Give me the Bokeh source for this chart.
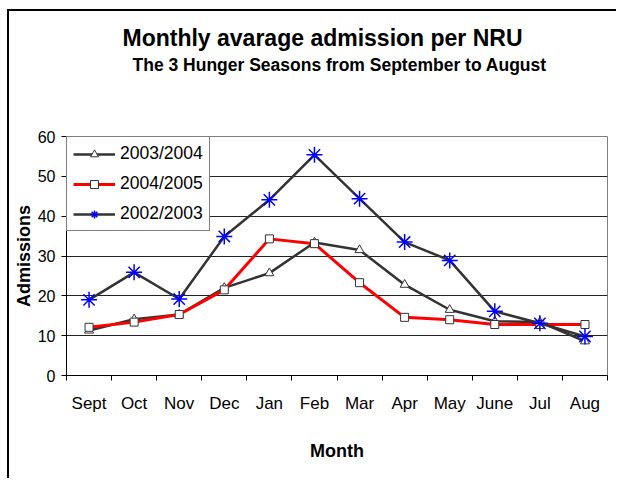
from bokeh.plotting import figure
from bokeh.models import Range1d, FixedTicker, Title, Legend, LegendItem
from bokeh.embed import file_html
from bokeh.resources import INLINE

months = ["Sept", "Oct", "Nov", "Dec", "Jan", "Feb", "Mar", "Apr", "May", "June", "Jul", "Aug"]
s_2003_2004 = [11.3, 14.1, 15.3, 22.0, 25.7, 33.4, 31.5, 22.8, 16.5, 13.6, 13.4, 8.6]
s_2004_2005 = [12.1, 13.4, 15.3, 21.5, 34.3, 33.1, 23.3, 14.6, 14.0, 12.8, 12.8, 12.8]
s_2002_2003 = [19.0, 25.9, 19.2, 34.9, 44.1, 55.4, 44.4, 33.5, 28.9, 16.1, 13.1, 9.8]
y_ticks = [0, 10, 20, 30, 40, 50, 60]

FONT = "Liberation Sans"
xs = [i + 0.5 for i in range(len(months))]

p = figure(width=609, height=469, output_backend="svg", toolbar_location=None,
           x_range=Range1d(0, len(months)), y_range=Range1d(0, 60),
           min_border_left=57, min_border_right=11, min_border_top=125, min_border_bottom=105)
p.styles = {"margin-left": "7px", "margin-top": "9px",
            "border-left": "2px solid #000", "border-top": "2px solid #000"}
p.title.visible = False
p.background_fill_color = "white"
p.border_fill_color = "white"
p.outline_line_color = "#808080"
p.outline_line_width = 1

p.xgrid.visible = False
p.ygrid.grid_line_color = "#222222"
p.ygrid.grid_line_width = 1

xa = p.xaxis[0]
xa.ticker = FixedTicker(ticks=xs, minor_ticks=list(range(len(months) + 1)))
xa.major_label_overrides = {x: m for x, m in zip(xs, months)}
xa.major_tick_line_color = None
xa.major_tick_out = 0
xa.major_tick_in = 0
xa.minor_tick_out = 5
xa.minor_tick_in = 0
xa.minor_tick_line_color = "black"
xa.axis_line_color = "black"
xa.major_label_text_font = FONT
xa.major_label_text_font_size = "17px"
xa.major_label_text_color = "black"
xa.major_label_standoff = 13
xa.axis_label = "Month"
xa.axis_label_text_font = FONT
xa.axis_label_text_font_style = "bold"
xa.axis_label_text_font_size = "18px"
xa.axis_label_text_color = "black"
xa.axis_label_standoff = 25

ya = p.yaxis[0]
ya.ticker = FixedTicker(ticks=y_ticks, minor_ticks=[])
ya.major_tick_out = 5
ya.major_tick_in = 0
ya.major_tick_line_color = "black"
ya.axis_line_color = "black"
ya.major_label_text_font = FONT
ya.major_label_text_font_size = "16px"
ya.major_label_text_color = "black"
ya.major_label_standoff = 6
ya.axis_label = "Admissions"
ya.axis_label_text_font = FONT
ya.axis_label_text_font_style = "bold"
ya.axis_label_text_font_size = "18px"
ya.axis_label_text_color = "black"
ya.axis_label_standoff = 1

l1 = p.line(xs, s_2003_2004, line_color="#333333", line_width=2.5)
m1 = p.scatter(xs, s_2003_2004, marker="triangle", size=9, line_color="#333333",
               fill_color="white", line_width=1)
l2 = p.line(xs, s_2004_2005, line_color="#ff0000", line_width=3)
m2 = p.scatter(xs, s_2004_2005, marker="square", size=8, line_color="#333333",
               fill_color="white", line_width=1)
l3 = p.line(xs, s_2002_2003, line_color="#333333", line_width=2.5)
m3 = p.scatter(xs, s_2002_2003, marker="asterisk", size=16, line_color="#0000ff",
               line_width=1.5)

legend = Legend(items=[
    LegendItem(label="2003/2004", renderers=[l1, m1]),
    LegendItem(label="2004/2005", renderers=[l2, m2]),
    LegendItem(label="2002/2003", renderers=[l3, m3]),
], location="top_left")
legend.margin = 0
legend.border_line_color = "black"
legend.border_line_width = 1
legend.background_fill_color = "white"
legend.background_fill_alpha = 1
legend.label_text_font = FONT
legend.label_text_font_size = "17.5px"
legend.label_text_color = "black"
legend.glyph_width = 42
legend.glyph_height = 20
legend.label_height = 20
legend.label_standoff = 5
legend.padding = 6
legend.spacing = 9
p.add_layout(legend, "center")

spacer = Title(text=" ", text_font_size="54px", standoff=0)
subtitle = Title(text="The 3 Hunger Seasons from September to August", align="left",
                 text_font=FONT, text_font_style="bold", text_font_size="17.5px",
                 text_color="black", offset=66, standoff=0)
title = Title(text="Monthly avarage admission per NRU", align="left",
              text_font=FONT, text_font_style="bold", text_font_size="23px",
              text_color="black", offset=56, standoff=3)
p.add_layout(spacer, "above")
p.add_layout(subtitle, "above")
p.add_layout(title, "above")

open("out.html", "w").write(file_html(p, INLINE))
